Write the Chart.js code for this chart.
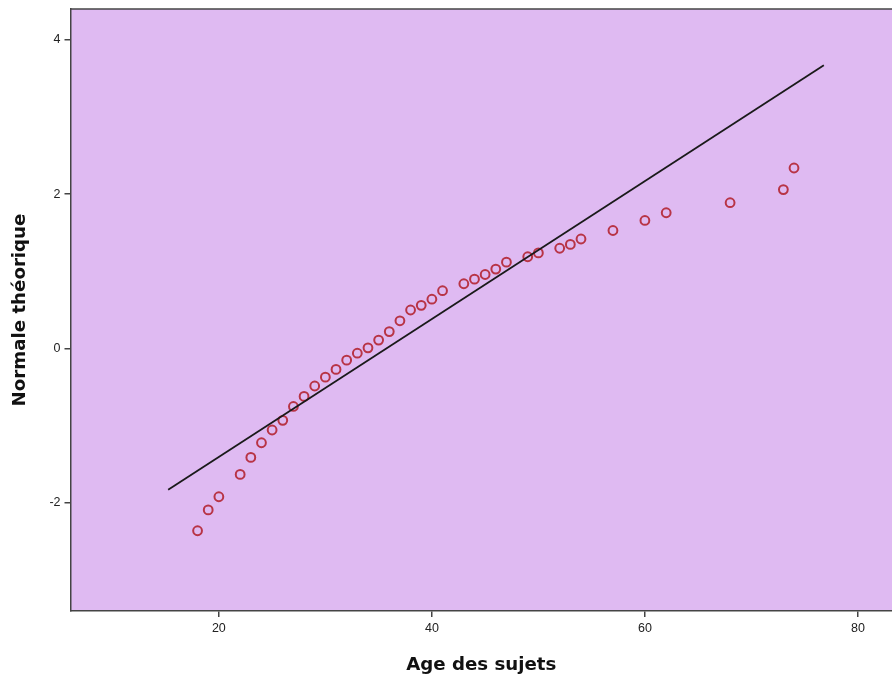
<!DOCTYPE html>
<html lang="fr">
<head>
  <meta charset="UTF-8">
  <title>Diagramme Q-Q normal</title>
  <script src="https://cdn.jsdelivr.net/npm/chart.js"></script>
  <style>
    html, body {
      margin: 0;
      padding: 0;
      background: #ffffff;
      overflow: hidden;
    }
    #wrap {
      width: 892px;
      height: 684px;
      position: relative;
    }
    canvas {
      display: block;
    }
  </style>
</head>
<body>

<div id="wrap">
  <canvas id="graphique"></canvas>
</div>

<script>
  const ages = [18, 19, 20, 22, 23, 24, 25, 26, 27, 28, 29, 30, 31, 32, 33, 34, 35, 36, 37, 38,
                39, 40, 41, 43, 44, 45, 46, 47, 49, 50, 52, 53, 54, 57, 60, 62, 68, 73, 74];
  const normale = [-2.36, -2.09, -1.92, -1.63, -1.41, -1.22, -1.055, -0.93, -0.75, -0.62,
                   -0.485, -0.37, -0.27, -0.15, -0.06, 0.01, 0.11, 0.22, 0.36, 0.50,
                   0.56, 0.64, 0.75, 0.84, 0.90, 0.96, 1.03, 1.12, 1.19, 1.24,
                   1.30, 1.35, 1.42, 1.53, 1.66, 1.76, 1.89, 2.06, 2.34];

  // Droite de référence (extrémités)
  const droiteX = [15.24, 76.8];
  const droiteY = [-1.83, 3.67];

  const ticksX = [20, 40, 60, 80];
  const ticksY = [-2, 0, 2, 4];

  const points = ages.map((a, i) => ({ x: a, y: normale[i] }));
  const droite = droiteX.map((x, i) => ({ x: x, y: droiteY[i] }));

  // fond violet + bordure haute de la zone de tracé
  const fondZone = {
    id: "fondZone",
    beforeDraw(chart) {
      const { ctx, chartArea: a } = chart;
      ctx.save();
      ctx.fillStyle = "#dfbaf2";
      ctx.fillRect(a.left, a.top, a.right - a.left, a.bottom - a.top);
      ctx.strokeStyle = "#444";
      ctx.lineWidth = 1.5;
      ctx.beginPath();
      ctx.moveTo(a.left, a.top);
      ctx.lineTo(a.right, a.top);
      ctx.stroke();
      ctx.restore();
    }
  };

  const ctx = document.getElementById("graphique").getContext("2d");

  new Chart(ctx, {
    type: "scatter",
    data: {
      datasets: [
        {
          label: "Age des sujets",
          data: points,
          pointStyle: "circle",
          pointRadius: 4.4,
          pointBorderWidth: 2,
          borderColor: "rgba(176, 22, 32, 0.82)",
          backgroundColor: "rgba(0,0,0,0)",
          order: 2
        },
        {
          type: "line",
          label: "droite",
          data: droite,
          borderColor: "#1a1a1a",
          borderWidth: 1.8,
          pointRadius: 0,
          fill: false,
          order: 1
        }
      ]
    },
    options: {
      responsive: true,
      maintainAspectRatio: false,
      animation: false,
      layout: { autoPadding: false, padding: { top: 9, right: 0, left: 0, bottom: 0 } },
      plugins: {
        legend: { display: false },
        tooltip: { enabled: false }
      },
      scales: {
        x: {
          type: "linear",
          min: 6.07,
          max: 83.2,
          afterFit: (s) => { s.height = 73; s.paddingLeft = 0; s.paddingRight = 0; },
          afterBuildTicks: (s) => { s.ticks = ticksX.map(v => ({ value: v })); },
          ticks: {
            includeBounds: false,
            color: "#222",
            font: { family: "Liberation Sans", size: 12.5 },
            padding: 4
          },
          grid: { drawOnChartArea: false, drawTicks: true, tickLength: 6, color: "#444", lineWidth: 1.5 },
          border: { display: true, color: "#444", width: 1.5 },
          title: {
            display: true,
            text: "Age des sujets",
            color: "#111",
            font: { family: "DejaVu Sans", size: 18.2, weight: "bold" },
            padding: { top: 0, bottom: 8 }
          }
        },
        y: {
          type: "linear",
          min: -3.4,
          max: 4.4,
          afterFit: (s) => { s.width = 70.5; s.paddingTop = 0; s.paddingBottom = 0; },
          afterBuildTicks: (s) => { s.ticks = ticksY.map(v => ({ value: v })); },
          ticks: {
            includeBounds: false,
            color: "#222",
            font: { family: "Liberation Sans", size: 12.5 },
            padding: 4
          },
          grid: { drawOnChartArea: false, drawTicks: true, tickLength: 6, color: "#444", lineWidth: 1.5 },
          border: { display: true, color: "#444", width: 1.5 },
          title: {
            display: true,
            text: "Normale théorique",
            color: "#111",
            font: { family: "DejaVu Sans", size: 18.2, weight: "bold" },
            padding: { top: 9, bottom: 0 }
          }
        }
      }
    },
    plugins: [fondZone]
  });
</script>

</body>
</html>
